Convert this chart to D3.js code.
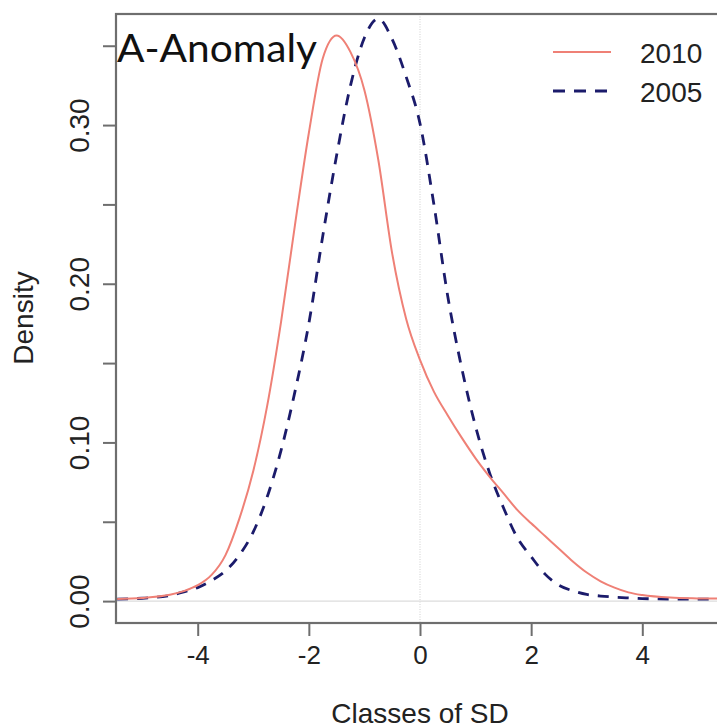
<!DOCTYPE html>
<html>
<head>
<meta charset="utf-8">
<script src="https://cdn.jsdelivr.net/npm/d3@7"></script>
<style>
  html, body { margin: 0; padding: 0; background: #fff; overflow: hidden; }
  svg { display: block; }
</style>
</head>
<body>
<script>
// ---- Data ----
const xGrid = [-5.45, -5, -4.5, -4.25, -4, -3.75, -3.5, -3.25, -3, -2.75, -2.5, -2.25, -2, -1.75, -1.5, -1.25, -1, -0.75, -0.5, -0.25, 0, 0.25, 0.5, 0.75, 1, 1.25, 1.5, 1.75, 2, 2.25, 2.5, 2.75, 3, 3.25, 3.5, 3.75, 4, 4.5, 5, 5.5];
const density2010 = [0.0014, 0.0020, 0.0040, 0.0063, 0.0100, 0.0165, 0.0290, 0.0520, 0.0820, 0.1230, 0.1760, 0.2370, 0.2950, 0.3420, 0.3565, 0.3460, 0.3220, 0.2780, 0.2190, 0.1780, 0.1520, 0.1320, 0.1170, 0.1030, 0.0900, 0.0785, 0.0680, 0.0575, 0.0490, 0.0410, 0.0330, 0.0250, 0.0180, 0.0125, 0.0085, 0.0055, 0.0038, 0.0022, 0.0017, 0.0015];
const density2005 = [0.0013, 0.0018, 0.0036, 0.0058, 0.0085, 0.0130, 0.0190, 0.0290, 0.0436, 0.0656, 0.0950, 0.1320, 0.1750, 0.2300, 0.2810, 0.3250, 0.3550, 0.3670, 0.3540, 0.3305, 0.3010, 0.2500, 0.1920, 0.1470, 0.1100, 0.0810, 0.0590, 0.0400, 0.0280, 0.0170, 0.0100, 0.0065, 0.0042, 0.0032, 0.0025, 0.0020, 0.0016, 0.0013, 0.0012, 0.0012];
const seriesNames = ["2010", "2005"];
const xTicks = [-4, -2, 0, 2, 4];
const yTicks = [0, 0.05, 0.10, 0.15, 0.20, 0.25, 0.30, 0.35];
const yTickLabels = ["0.00", "", "0.10", "", "0.20", "", "0.30", ""];
const titleText = "A-Anomaly";
const xLabel = "Classes of SD";
const yLabel = "Density";

// ---- Layout ----
const W = 717, H = 728;
const pLeft = 116, pTop = 14, pRight = 724, pBottom = 623;

const svg = d3.select("body").append("svg").attr("width", W).attr("height", H);

const x = d3.scaleLinear().domain([-5.47, 5.47]).range([pLeft, pRight]);
const y = d3.scaleLinear().domain([-0.0138, 0.370]).range([pBottom, pTop]);

const axisColor = "#6e6e6e";
const fontMain = "'Liberation Sans', Arial, sans-serif";

svg.append("defs").append("clipPath").attr("id", "plotclip")
  .append("rect").attr("x", pLeft).attr("y", pTop).attr("width", pRight - pLeft).attr("height", pBottom - pTop);

// reference lines
svg.append("line")
  .attr("x1", x(0)).attr("x2", x(0)).attr("y1", pTop).attr("y2", pBottom)
  .attr("stroke", "#d8d8d8").attr("stroke-width", 1.2).attr("stroke-dasharray", "1,1.5");
svg.append("line")
  .attr("x1", pLeft).attr("x2", pRight).attr("y1", y(0)).attr("y2", y(0))
  .attr("stroke", "#dcdcdc").attr("stroke-width", 1.2);

// curves
const line = d3.line().x(d => x(d[0])).y(d => y(d[1])).curve(d3.curveMonotoneX);
const g = svg.append("g").attr("clip-path", "url(#plotclip)");
g.append("path").datum(xGrid.map((v, i) => [v, density2005[i]]))
  .attr("d", line).attr("fill", "none")
  .attr("stroke", "#1b1b6b").attr("stroke-width", 2.8).attr("stroke-dasharray", "11,9");
g.append("path").datum(xGrid.map((v, i) => [v, density2010[i]]))
  .attr("d", line).attr("fill", "none")
  .attr("stroke", "#ef8076").attr("stroke-width", 2);

// box (top, left, bottom visible; right is cropped)
svg.append("rect").attr("x", pLeft).attr("y", pTop).attr("width", pRight - pLeft).attr("height", pBottom - pTop)
  .attr("fill", "none").attr("stroke", axisColor).attr("stroke-width", 2.2);

// x axis
const xAxis = d3.axisBottom(x).tickValues(xTicks).tickSize(13).tickPadding(10).tickFormat(d3.format("d"));
const gx = svg.append("g").attr("transform", `translate(0,${pBottom})`).call(xAxis);
gx.select(".domain").remove();
gx.selectAll(".tick line").attr("stroke", axisColor).attr("stroke-width", 2);
gx.selectAll(".tick text").attr("fill", "#222").attr("font-family", fontMain).attr("font-size", 26)
  .text(d => d < 0 ? "-" + Math.abs(d) : String(d));

// y axis
const yAxis = d3.axisLeft(y).tickValues(yTicks).tickSize(13).tickFormat((d, i) => yTickLabels[i]);
const gy = svg.append("g").attr("transform", `translate(${pLeft},0)`).call(yAxis);
gy.select(".domain").remove();
gy.selectAll(".tick line").attr("stroke", axisColor).attr("stroke-width", 2);
gy.selectAll(".tick text")
  .attr("fill", "#222").attr("font-family", fontMain).attr("font-size", 28)
  .attr("x", null).attr("dy", null)
  .attr("text-anchor", "middle")
  .attr("transform", `translate(${89 - pLeft},0) rotate(-90)`);

// axis titles
svg.append("text").attr("x", x(0)).attr("y", 723)
  .attr("text-anchor", "middle").attr("font-family", fontMain).attr("font-size", 28).attr("fill", "#222")
  .text(xLabel);
svg.append("text").attr("transform", "translate(33,318) rotate(-90)")
  .attr("text-anchor", "middle").attr("font-family", fontMain).attr("font-size", 28).attr("fill", "#222")
  .text(yLabel);

// title
svg.append("text").attr("x", 117).attr("y", 62)
  .attr("font-family", "Lato, 'Open Sans', sans-serif").attr("font-size", 39).attr("fill", "#111")
  .attr("textLength", 200).attr("lengthAdjust", "spacingAndGlyphs")
  .text(titleText);

// legend
const legend = svg.append("g");
const legendItems = [
  { name: seriesNames[0], color: "#ef8076", dash: null, width: 2, y: 52 },
  { name: seriesNames[1], color: "#1b1b6b", dash: "12,9", width: 2.8, y: 91 }
];
legendItems.forEach(it => {
  legend.append("line").attr("x1", 553).attr("x2", 611).attr("y1", it.y).attr("y2", it.y)
    .attr("stroke", it.color).attr("stroke-width", it.width).attr("stroke-dasharray", it.dash);
  legend.append("text").attr("x", 640).attr("y", it.y + 11)
    .attr("font-family", fontMain).attr("font-size", 28).attr("fill", "#222").text(it.name);
});
</script>
</body>
</html>
